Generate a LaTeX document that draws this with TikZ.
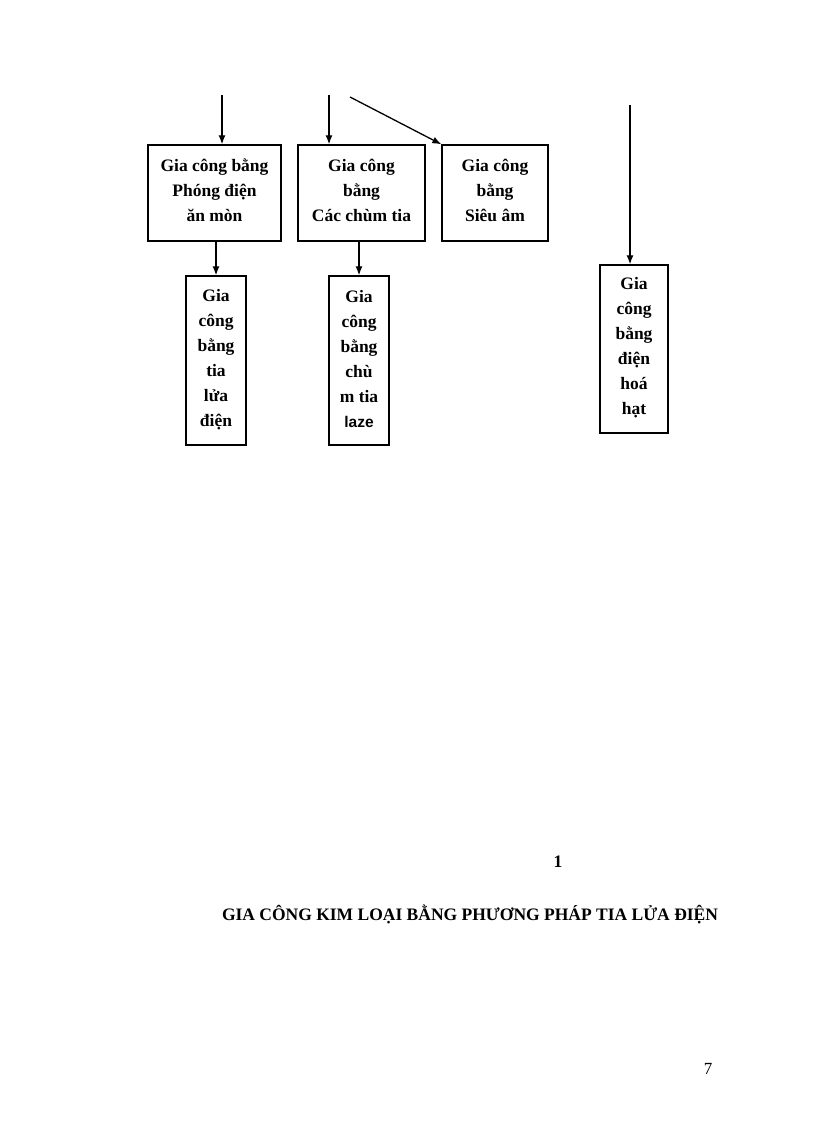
\documentclass[tikz,border=0pt]{standalone}
\usepackage{fontspec}
\usetikzlibrary{arrows.meta}
\setmainfont{Liberation Serif}
\newfontfamily\lsans{Liberation Sans}
\begin{document}
\begin{tikzpicture}[x=1pt,y=-1pt,
  bx/.style={draw,line width=1.4pt,inner sep=0pt},
  lbl/.style={font=\bfseries\fontsize{17.5}{25}\selectfont,align=center},
  ar/.style={-{Latex[length=9pt,width=7pt]},line width=1.3pt}]
\useasboundingbox (0,0) rectangle (816,1123);
\node[bx,minimum width=133pt,minimum height=96pt] (A) at (214.5,193) {};
\node[lbl] (At) at (214.5,190) {Gia công bằng\\Phóng điện\\ăn mòn};
\node[bx,minimum width=127pt,minimum height=96pt] (B) at (361.5,193) {};
\node[lbl] (Bt) at (361.5,190) {Gia công\\bằng\\Các chùm tia};
\node[bx,minimum width=106pt,minimum height=96pt] (C) at (495,193) {};
\node[lbl] (Ct) at (495,190) {Gia công\\bằng\\Siêu âm};
\node[bx,minimum width=60pt,minimum height=169pt] (D) at (216,360.5) {};
\node[lbl] (Dt) at (216,359.5) {Gia\\công\\bằng\\tia\\lửa\\điện};
\node[bx,minimum width=60pt,minimum height=169pt] (E) at (359,360.5) {};
\node[lbl] (Et) at (359,359.5) {Gia\\công\\bằng\\chù\\m tia\\{\lsans\fontsize{15.5}{25}\selectfont laze}};
\node[bx,minimum width=68pt,minimum height=168pt] (F) at (634,349) {};
\node[lbl] (Ft) at (634,347.5) {Gia\\công\\bằng\\điện\\hoá\\hạt};
\coordinate (a0) at (222,95); \coordinate (b0) at (329,95);
\coordinate (c0) at (350,97); \coordinate (f0) at (630,105);
\coordinate (d0) at (216,241); \coordinate (e0) at (359,241);
\draw[ar] (a0) -- (a0|-A.north);
\draw[ar] (b0) -- (b0|-B.north);
\draw[ar] (c0) -- (C.north west);
\draw[ar] (d0) -- (d0|-D.north);
\draw[ar] (e0) -- (e0|-E.north);
\draw[ar] (f0) -- (f0|-F.north);
\node[font=\bfseries\fontsize{17.5}{20}\selectfont] (n1) at (558,862) {1};
\node[font=\bfseries\fontsize{17.5}{20}\selectfont] (T) at (470,914) {GIA CÔNG KIM LOẠI BẰNG PHƯƠNG PHÁP TIA LỬA ĐIỆN};
\node[font=\fontsize{17}{20}\selectfont] (n7) at (708,1069) {7};
\end{tikzpicture}
\end{document}
